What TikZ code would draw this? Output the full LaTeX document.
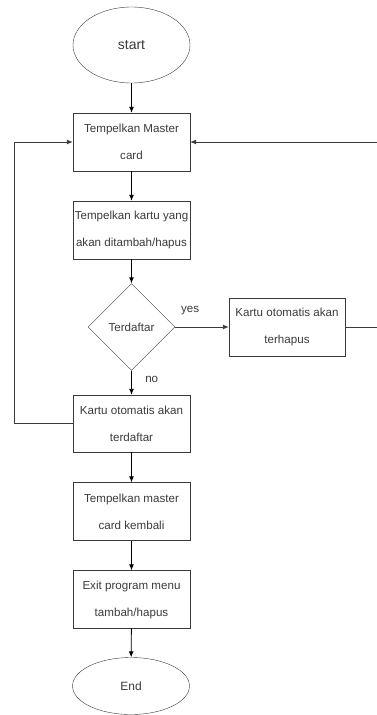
\documentclass[tikz,border=0pt]{standalone}
\usepackage{fontspec}
\setmainfont{Liberation Sans}
\usetikzlibrary{arrows.meta, shapes.geometric}

\definecolor{inkgrey}{HTML}{3A3A3A}

\begin{document}
\begin{tikzpicture}[
        > = {Latex[length=6pt, width=5pt]},
        x = 1pt, y = -1pt,
        every node/.style = {text = inkgrey, font = \fontsize{11.6}{27}\selectfont, align = center},
        terminal/.style = {draw = inkgrey, ellipse, minimum width = 117pt, inner sep = 0pt},
        process/.style = {draw = inkgrey, rectangle, minimum width = 117pt, minimum height = 58pt, inner sep = 0pt},
        decision/.style = {draw = inkgrey, diamond, minimum width = 87pt, minimum height = 87pt, inner sep = 0pt},
        flow/.style = {->, line width = 0.9pt, black},
        loop/.style = {->, line width = 0.9pt, inkgrey}
    ]

        % Page frame, the loop line on the right runs off it.
        \useasboundingbox (0, 0) rectangle (377, 715);
        \clip (0, 0) rectangle (377, 715);

        % Start and end of the flow.
        \node[terminal, minimum height = 76pt, font = \fontsize{14}{17}\selectfont] (start) at (131.5, 45) {start};
        \node[terminal, minimum height = 57pt, font = \fontsize{12}{14}\selectfont] (end) at (131, 686) {End};

        % Steps down the main column.
        \node[process] (master) at (131.5, 142) {Tempelkan Master\\card};
        \node[process] (tempel) at (131.5, 230) {Tempelkan kartu yang\\akan ditambah/hapus};
        \node[decision] (cek) at (131.5, 327) {Terdaftar};
        \node[process, minimum height = 57pt] (daftar) at (131.5, 423.5) {Kartu otomatis akan\\terdaftar};
        \node[process] (kembali) at (131.5, 511.5) {Tempelkan master\\card kembali};
        \node[process] (keluar) at (131.5, 599.5) {Exit program menu\\tambah/hapus};

        % Step on the yes branch.
        \node[process, minimum width = 116pt] (hapus) at (287, 327) {Kartu otomatis akan\\terhapus};

        % Corner points for the two loops back to the master card.
        \coordinate (LEFTLOW) at (14, 423.5);
        \coordinate (LEFTHIGH) at (14, 142);
        \coordinate (RIGHTLOW) at (392, 327);
        \coordinate (RIGHTHIGH) at (392, 142);

        % Arrows down the main column.
        \draw[flow] (start) to (master);
        \draw[flow] (master) to (tempel);
        \draw[flow] (tempel) to (cek);
        \draw[flow] (cek) to node [pos = 0.35, right = 10pt] {no} (daftar);
        \draw[flow] (daftar) to (kembali);
        \draw[flow] (kembali) to (keluar);
        \draw[flow] (keluar) to (end);

        % Yes branch.
        \draw[loop] (cek) to node [pos = 0.28, above = 8pt] {yes} (hapus);

        % Loops back to the master card.
        \draw[loop] (daftar.west) -- (LEFTLOW) -- (LEFTHIGH) -- (master.west);
        \draw[loop] (hapus.east) -- (RIGHTLOW) -- (RIGHTHIGH) -- (master.east);
    \end{tikzpicture}
\end{document}
